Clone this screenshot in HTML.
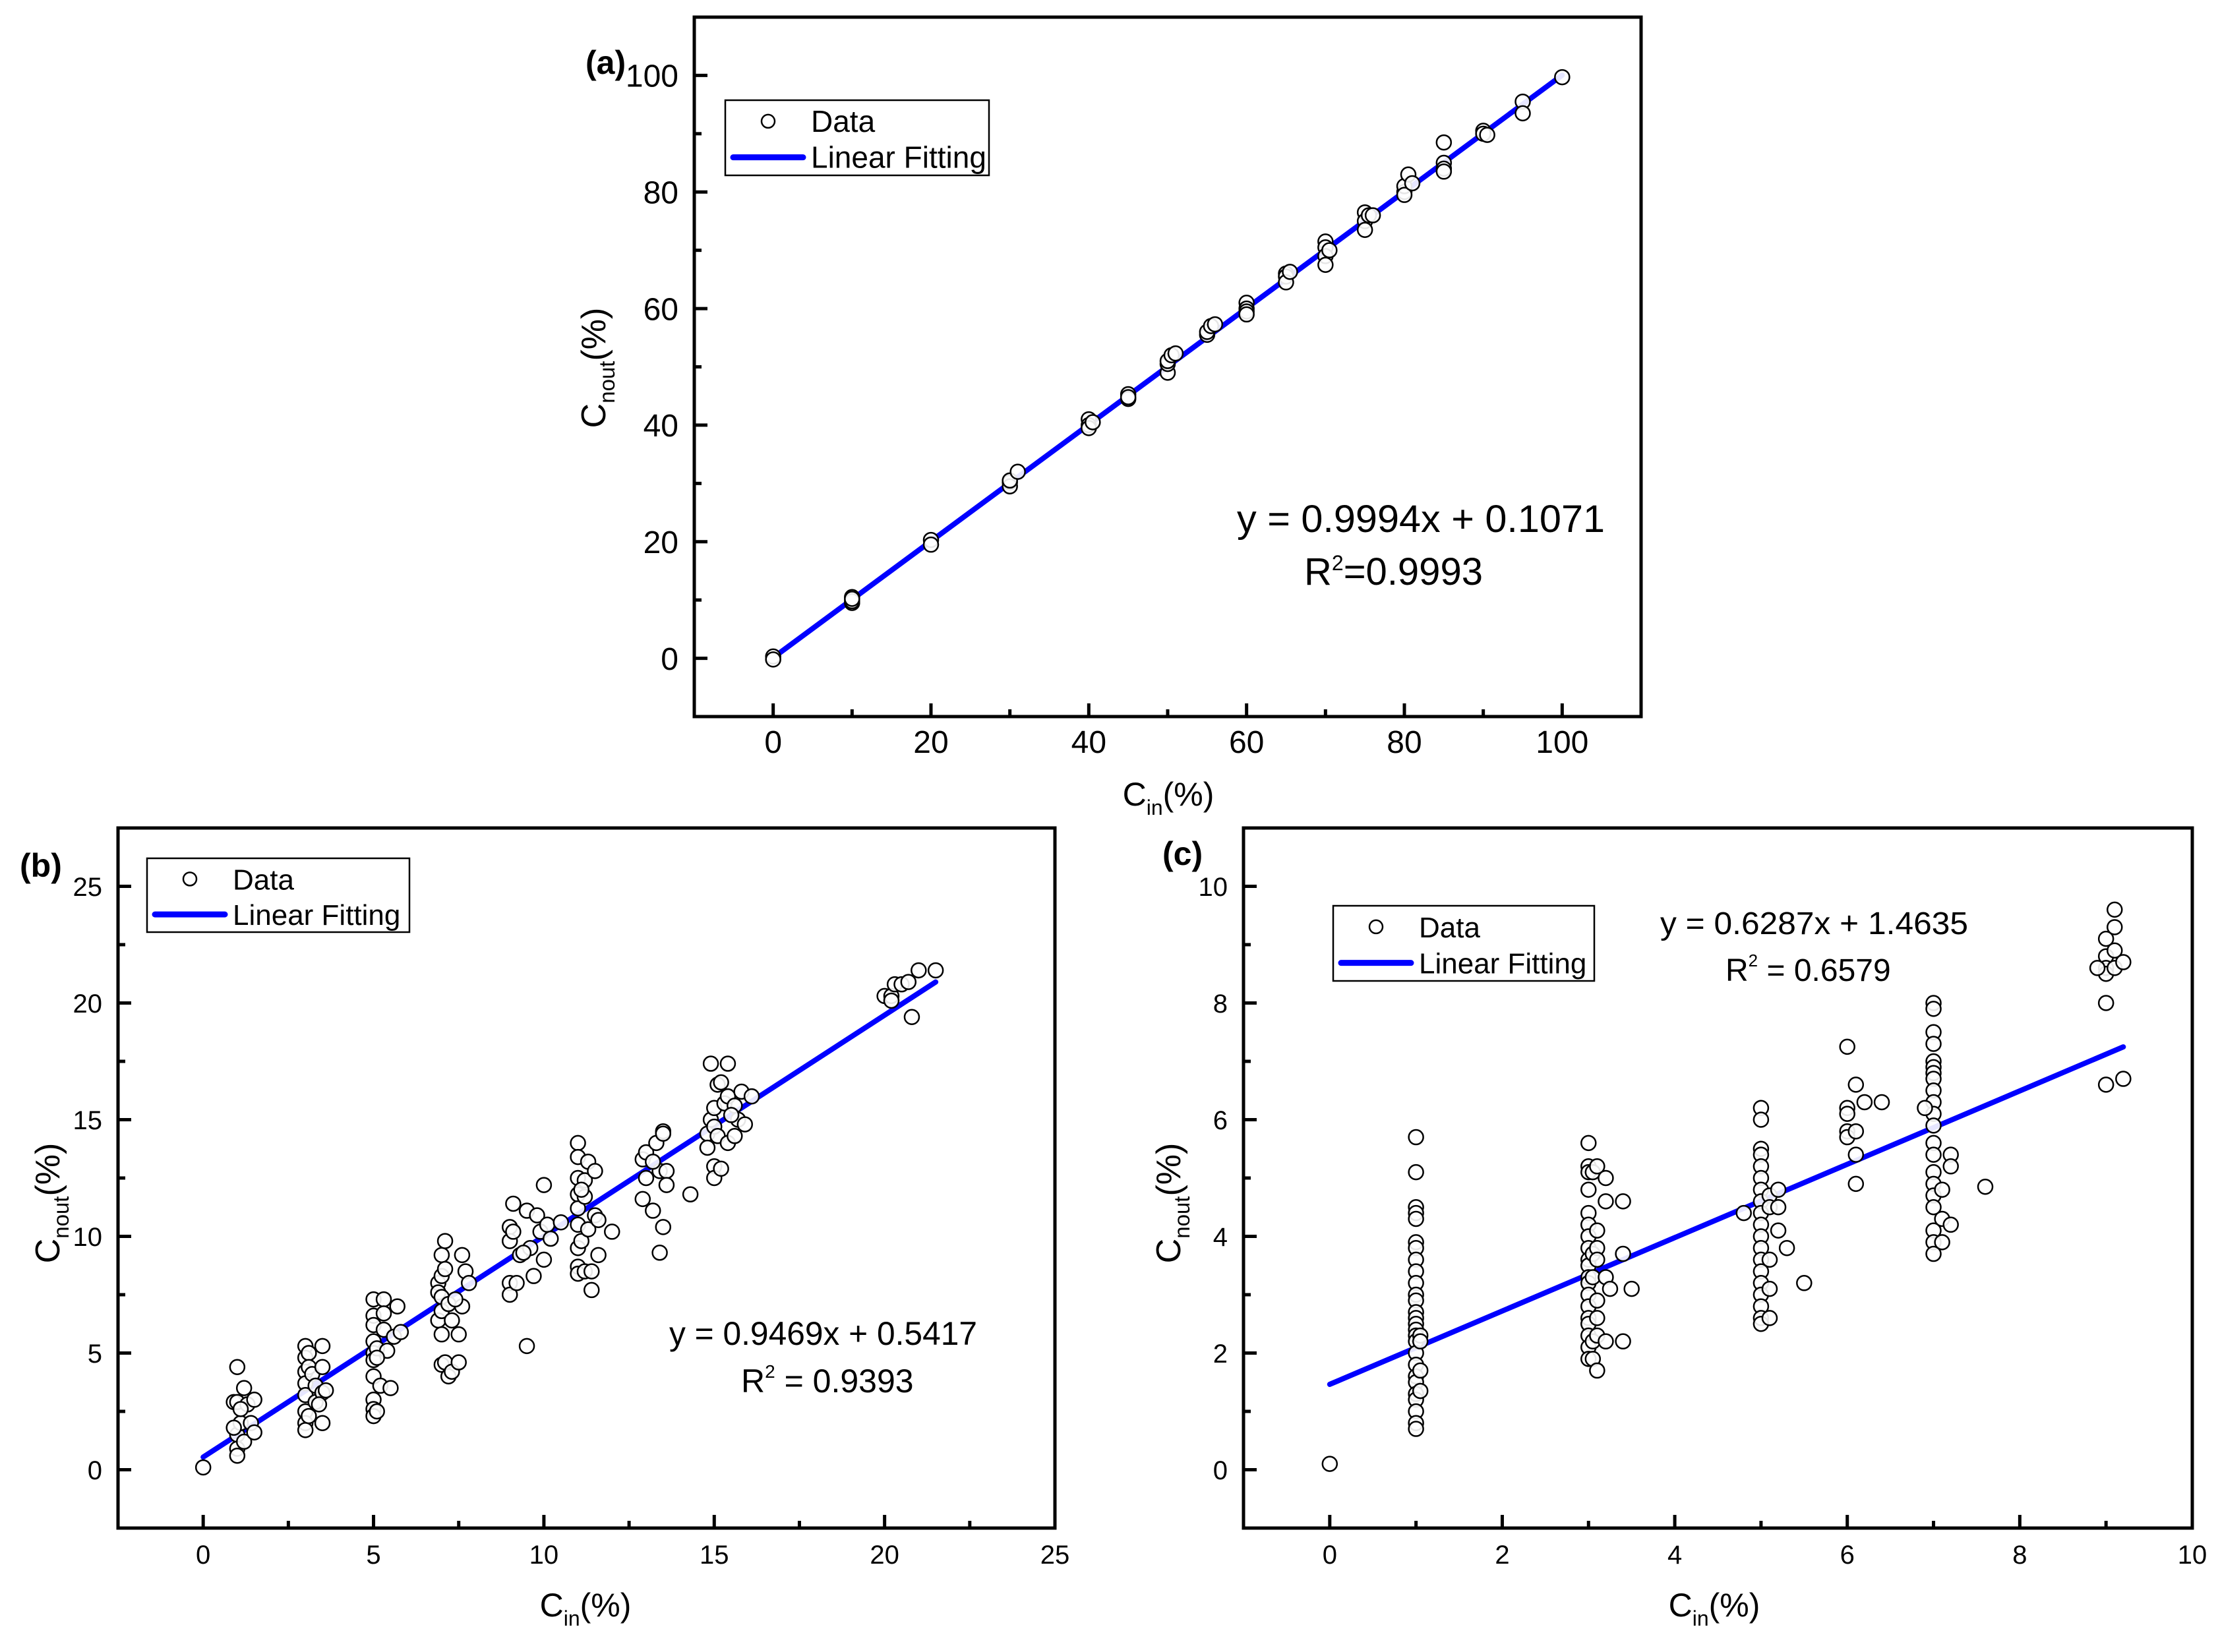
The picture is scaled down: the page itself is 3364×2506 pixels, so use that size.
<!DOCTYPE html>
<html><head><meta charset="utf-8"><style>
html,body{margin:0;padding:0;background:#fff;}
svg{display:block;font-family:"Liberation Sans",Arial,sans-serif;}
</style></head><body>
<svg id="fig" width="3364" height="2506" viewBox="0 0 3364 2506" xmlns="http://www.w3.org/2000/svg">
<rect x="0" y="0" width="3364" height="2506" fill="#fff"/>
</svg>
<script>
// ---------- data: panel (a) ----------
const aX = [0,0,10,10,10,10,20,20,30,30,30,31,40,40,40,40.5,45,45,45,50,50,50,50.5,51,55,55,55.5,56,60,60,60,60,65,65,65,65.5,70,70,70,70,70.5,75,75,75,75.5,76,80,80,80,80.5,81,85,85,85,85,90,90,90.5,95,95,100];
const aY = [0.3,-0.2,10.5,9.5,9.8,10.2,20.3,19.5,30.2,29.5,30.5,32,41,40,39.5,40.5,45.3,44.5,44.8,49,50.5,51,52,52.3,55.5,56,57,57.3,61,60,59.5,59,66,65.5,64.5,66.3,71.5,70.5,69,67.5,70,76.5,75,73.5,76,76,80,81,79.5,83,81.5,88.5,85,84,83.5,90.5,90,89.8,95.5,93.5,99.7];
const aFit = [0.9994, 0.1071];
const aXTicks = [0,20,40,60,80,100];
const aYTicks = [0,20,40,60,80,100];

// ---------- data: panel (b) ----------
const bX = [0,
0.9,1,1,1,1,1,1.1,1.2,1.2,1.3,1.4,1.5,1.5,1.1,0.9,
3,3,3,3,3,3,3,3,3.1,3.1,3.1,3.2,3.3,3.3,3.5,3.5,3.5,3.5,3.6,3.4,
5,5,5,5,5,5,5,5,5,5,5.1,5.1,5.2,5.3,5.3,5.3,5.4,5.5,5.6,5.7,5.8,5.1,
6.9,6.9,6.9,7,7,7,7,7,7,7.1,7.1,7.1,7.2,7.2,7.3,7.3,7.5,7.5,7.6,7.6,7.7,7.8,7.4,
9,9,9,9,9.1,9.1,9.2,9.3,9.5,9.5,9.6,9.7,9.8,9.9,10,10,10.1,10.2,10.5,9.4,
11,11,11,11,11,11,11,11,11,11.1,11.2,11.2,11.2,11.3,11.3,11.4,11.4,11.5,11.5,11.6,11.6,12,11.1,
12.9,12.9,13,13,13.2,13.3,13.4,13.4,13.5,13.5,13.5,13.6,13.6,14.3,13.2,
14.8,14.8,14.9,14.9,15,15,15,15,15.1,15.1,15.2,15.2,15.3,15.4,15.4,15.4,15.6,15.6,15.7,15.8,15.9,16.1,15.5,
20,20.2,20.3,20.5,20.7,20.8,21,21.5,20.2];
const bY = [0.1,
2.9,4.4,2.9,1.5,0.9,0.6,2.0,3.5,1.2,2.8,2.0,3.0,1.6,2.6,1.8,
5.3,4.8,4.2,3.7,3.2,2.5,2.0,1.7,5.0,4.4,2.3,4.1,3.6,2.9,5.3,4.4,3.3,2.0,3.4,2.8,
7.3,6.6,6.2,5.5,5.0,4.7,4.0,3.0,2.6,2.3,2.5,5.2,3.6,7.3,6.7,6.0,5.1,3.5,5.7,7.0,5.9,4.8,
8.0,7.6,6.4,9.2,8.3,7.4,6.8,5.8,4.5,9.8,8.6,4.6,7.1,4.0,6.4,4.2,5.8,4.6,9.2,7.0,8.5,8.0,7.3,
10.4,9.8,8.0,7.5,11.4,10.2,8.0,9.2,11.1,5.3,9.5,8.3,10.9,10.2,12.2,9.0,10.5,9.9,10.6,9.3,
14.0,13.4,12.5,11.8,11.2,10.5,9.5,8.7,8.4,9.8,12.4,11.7,8.5,13.2,10.3,8.5,7.7,12.8,10.9,9.2,10.7,10.2,12.0,
13.3,11.6,13.6,12.5,11.1,14.0,12.8,9.3,14.5,14.4,10.4,12.8,12.2,11.8,13.2,
14.4,13.8,17.4,15.0,15.5,14.7,13.0,12.5,16.5,14.3,16.6,12.9,15.7,17.4,16.0,14.0,15.6,14.3,15.0,16.2,14.8,16.0,15.2,
20.3,20.3,20.8,20.8,20.9,19.4,21.4,21.4,20.1];
const bFit = [0.9469, 0.5417];
const bXTicks = [0,5,10,15,20,25];
const bYTicks = [0,5,10,15,20,25];

// ---------- data: panel (c) ----------
const cX = [0,
1,1,1,1,1,1,1,1,1,1,1,1,1,1,1,1,1,1,1,1,1,1,1,1,1,1,1,1.05,1.05,1.05,1.05,
3,3,3,3,3,3,3,3,3,3,3,3,3,3,3,3,3,3,3,3.05,3.05,3.05,3.05,3.05,3.1,3.1,3.1,3.1,3.1,3.1,3.1,3.1,3.2,3.2,3.2,3.2,3.25,3.4,3.4,3.4,3.5,
5,5,5,5,5,5,5,5,5,5,5,5,5,5,5,5,5,5,5,4.8,5.1,5.1,5.1,5.1,5.1,5.2,5.2,5.2,5.3,5.5,
6,6,6,6,6,6.1,6.1,6.1,6.1,6.2,6.4,
7,7,7,7,7,7,7,7,7,7,7,7,7,7,7,7,7,7,7,7,7,6.9,7.1,7.1,7.1,7.2,7.2,7.2,7.6,
9,9,9,9,9,9,8.9,9.1,9.1,9.1,9.1,9.2,9.2];
const cY = [0.1,
5.7,5.1,4.5,4.4,4.3,3.9,3.8,3.6,3.4,3.2,3.0,2.9,2.7,2.6,2.5,2.4,2.3,2.2,2.0,1.8,1.6,1.5,1.3,1.2,1.0,0.8,0.7,2.3,2.2,1.7,1.35,
5.6,5.2,5.1,4.8,4.4,4.2,4.0,3.8,3.6,3.5,3.3,3.2,3.0,2.8,2.6,2.5,2.3,2.1,1.9,5.1,3.7,3.3,2.2,1.9,5.2,4.1,3.8,3.6,2.9,2.6,2.3,1.7,5.0,4.6,3.3,2.2,3.1,4.6,3.7,2.2,3.1,
6.2,6.0,5.5,5.4,5.2,5.0,4.8,4.6,4.4,4.2,4.0,3.8,3.6,3.4,3.2,3.0,2.8,2.6,2.5,4.4,4.7,4.5,3.6,3.1,2.6,4.8,4.5,4.1,3.8,3.2,
7.25,6.2,6.1,5.8,5.7,6.6,5.8,5.4,4.9,6.3,6.3,
8.0,7.9,7.5,7.3,7.0,6.9,6.8,6.7,6.5,6.3,6.1,5.9,5.6,5.4,5.1,4.9,4.7,4.5,4.1,3.9,3.7,6.2,4.8,4.3,3.9,5.4,5.2,4.2,4.85,
9.1,8.8,8.6,8.5,8.0,6.6,8.6,9.6,9.3,8.9,8.6,8.7,6.7];
const cFit = [0.6287, 1.4635];
const cXTicks = [0,2,4,6,8,10];
const cYTicks = [0,2,4,6,8,10];

const NS = 'http://www.w3.org/2000/svg';
const svg = document.getElementById('fig');
function mk(tag, attrs, parent){
  const e = document.createElementNS(NS, tag);
  for (const k in attrs) e.setAttribute(k, attrs[k]);
  (parent||svg).appendChild(e);
  return e;
}

function panel(cfg){
  const g = mk('g', {});
  
  
  const L=cfg.L,R=cfg.R,T=cfg.T,B=cfg.B;
  const sx = v => L + (v - cfg.xmin) / (cfg.xmax - cfg.xmin) * (R - L);
  const sy = v => B - (v - cfg.ymin) / (cfg.ymax - cfg.ymin) * (B - T);
  const ff = cfg.font;
  // ticks
  const tg = mk('g', {stroke:'#000','stroke-width':5}, g);
  
  
  for (let v = cfg.xmin; v <= cfg.xmax + 1e-9; v += cfg.xminor){
    const isMaj = cfg.xTicks.some(t => Math.abs(t - v) < 1e-6);
    if (v <= cfg.xmin + 1e-9 || v >= cfg.xmax - 1e-9) continue;
    mk('line', {x1:sx(v),x2:sx(v),y1:B,y2:B-(isMaj?20:11)}, tg);
  }
  for (let v = cfg.ymin; v <= cfg.ymax + 1e-9; v += cfg.yminor){
    const isMaj = cfg.yTicks.some(t => Math.abs(t - v) < 1e-6);
    if (v <= cfg.ymin + 1e-9 || v >= cfg.ymax - 1e-9) continue;
    mk('line', {x1:L,x2:L+(isMaj?20:11),y1:sy(v),y2:sy(v)}, tg);
  }
  cfg.xTicks.forEach(t => {
    const tx = mk('text', {x:sx(t), y:cfg.xlabY, 'text-anchor':'middle','font-size':cfg.tickFs,'font-family':ff}, g);
    
    
    tx.textContent = t;
  });
  cfg.yTicks.forEach(t => {
    const tx = mk('text', {x:L-24, y:sy(t)+cfg.tickFs*0.36, 'text-anchor':'end','font-size':cfg.tickFs,'font-family':ff}, g);
    
    
    tx.textContent = t;
  });
  // fit line
  const x0 = cfg.fitRange[0], x1 = cfg.fitRange[1];
  const fl = mk('line', {x1:sx(x0), y1:sy(cfg.fit[0]*x0+cfg.fit[1]), x2:sx(x1), y2:sy(cfg.fit[0]*x1+cfg.fit[1]), stroke:'#0000ff','stroke-width':8,'stroke-linecap':'round'}, g);
  
  
  // points
  const pg = mk('g', {}, g);
  
  
  cfg.xs.forEach((xv, i) => {
    const c = mk('circle', {cx:sx(xv), cy:sy(cfg.ys[i]), r:11, fill:'#fff', 'fill-opacity':0.9, stroke:'#000','stroke-width':2.5}, pg);
    
    
  });
  // frame
  const fr = mk('rect', {x:L, y:T, width:R-L, height:B-T, fill:'none', stroke:'#000','stroke-width':5}, g);
  
  
  // legend
  const lg = mk('g', {}, g);
  
  
  const [lx, ly, lw, lh] = cfg.legend;
  mk('rect', {x:lx, y:ly, width:lw, height:lh, fill:'#fff', stroke:'#000','stroke-width':2.5}, lg);
  const e1 = mk('g', {}, lg);
  
  
  mk('circle', {cx:lx+65, cy:ly+lh*0.28, r:10, fill:'#fff', stroke:'#000','stroke-width':2.5}, e1);
  const t1 = mk('text', {x:lx+130, y:ly+lh*0.28+16, 'font-size':cfg.legFs,'font-family':ff}, e1);
  t1.textContent = 'Data';
  const e2 = mk('g', {}, lg);
  
  
  mk('line', {x1:lx+12, x2:lx+118, y1:ly+lh*0.76, y2:ly+lh*0.76, stroke:'#0000ff','stroke-width':9,'stroke-linecap':'round'}, e2);
  const t2 = mk('text', {x:lx+130, y:ly+lh*0.76+16, 'font-size':cfg.legFs,'font-family':ff}, e2);
  t2.textContent = 'Linear Fitting';
  // equation
  const eq = mk('text', {x:cfg.eq[0], y:cfg.eq[1], 'font-size':cfg.eqFs,'font-family':ff, textLength:cfg.eq[2], lengthAdjust:'spacingAndGlyphs'}, g);
  
  
  eq.textContent = cfg.eqText;
  const r2 = mk('text', {x:cfg.r2[0], y:cfg.r2[1], 'font-size':cfg.eqFs,'font-family':ff}, g);
  
  
  r2.innerHTML = 'R<tspan font-size="' + Math.round(cfg.eqFs*0.55) + '" dy="-22">2</tspan><tspan dy="22">' + cfg.r2Text + '</tspan>';
  // panel label
  const pl = mk('text', {x:cfg.lab[0], y:cfg.lab[1], 'font-size':50,'font-weight':'bold','font-family':'Liberation Sans, Arial, sans-serif'}, g);
  
  
  pl.textContent = '(' + cfg.id.slice(-1) + ')';
  // axis titles
  const xt = mk('text', {x:cfg.xTitle[0], y:cfg.xTitle[1], 'text-anchor':'middle','font-size':50,'font-family':ff}, g);
  
  
  xt.innerHTML = 'C<tspan font-size="32" dy="14">in</tspan><tspan dy="-14">(%)</tspan>';
  const yt = mk('text', {x:0, y:0, 'text-anchor':'middle','font-size':52,'font-family':ff, transform:'translate(' + cfg.yTitle[0] + ',' + cfg.yTitle[1] + ') rotate(-90)'}, g);
  
  
  yt.innerHTML = 'C<tspan font-size="33" dy="14">nout</tspan><tspan dy="-14">(%)</tspan>';
}

panel({id:'panel-a', L:1053, R:2489, T:26, B:1087, xmin:-10, xmax:110, ymin:-10, ymax:110,
  xminor:10, yminor:10, xTicks:aXTicks, yTicks:aYTicks, xs:aX, ys:aY, fit:aFit, fitRange:[0,100],
  font:'"Liberation Sans Narrow","Liberation Sans",Arial,sans-serif', tickFs:48, legFs:46, eqFs:58, xlabY:1142,
  legend:[1100,152,400,114], eq:[1876,807,558], eqText:'y = 0.9994x + 0.1071', r2:[1978,887], r2Text:'=0.9993',
  lab:[888,112], xTitle:[1772,1222], yTitle:[918,558]});

panel({id:'panel-b', L:179, R:1600, T:1256, B:2318, xmin:-2.5, xmax:25, ymin:-2.5, ymax:27.5,
  xminor:2.5, yminor:2.5, xTicks:bXTicks, yTicks:bYTicks, xs:bX, ys:bY, fit:bFit, fitRange:[0,21.5],
  font:'"Liberation Sans",Arial,sans-serif', tickFs:40, legFs:44, eqFs:50, xlabY:2372,
  legend:[223,1302,398,112], eq:[1015,2040,467], eqText:'y = 0.9469x + 0.5417', r2:[1124,2112], r2Text:' = 0.9393',
  lab:[30,1330], xTitle:[888,2452], yTitle:[90,1825]});

panel({id:'panel-c', L:1886, R:3325, T:1256, B:2318, xmin:-1, xmax:10, ymin:-1, ymax:11,
  xminor:1, yminor:1, xTicks:cXTicks, yTicks:cYTicks, xs:cX, ys:cY, fit:cFit, fitRange:[0,9.2],
  font:'"Liberation Sans",Arial,sans-serif', tickFs:40, legFs:44, eqFs:48, xlabY:2372,
  legend:[2022,1374,396,114], eq:[2518,1417,467], eqText:'y = 0.6287x + 1.4635', r2:[2617,1488], r2Text:' = 0.6579',
  lab:[1763,1312], xTitle:[2600,2452], yTitle:[1790,1825]});
</script>
</body></html>
